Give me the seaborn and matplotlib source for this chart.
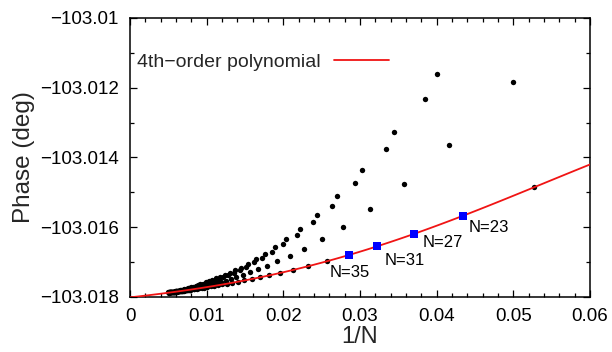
import numpy as np
import pandas as pd
import matplotlib
matplotlib.use("Agg")
import matplotlib.pyplot as plt
import seaborn as sns
from matplotlib.ticker import FixedLocator, FixedFormatter, MultipleLocator

# ---------------- data ----------------
phase_ref = -103.018           # deg, bottom of the plot
# N values for the four interleaved families (N mod 4 = 3, 0, 1, 2)
n_a = list(range(19, 200, 4))  # family lying on the polynomial
n_b = list(range(20, 201, 4))
n_c = list(range(25, 198, 4))
n_d = list(range(26, 199, 4))
# phase above phase_ref, in micro-degrees
dphase_a_udeg = [3140, 2330, 1810, 1460, 1210, 1020, 878, 765, 693, 623,
                 566, 517, 476, 440, 409, 382, 359, 337, 319, 302,
                 286, 272, 260, 248, 237, 228, 218, 210, 202, 195,
                 188, 182, 176, 171, 165, 161, 156, 152, 147, 143,
                 140, 136, 133, 130, 127, 124]
dphase_b_udeg = [6170, 4350, 3240, 2510, 2010, 1660, 1380, 1180, 1030, 886,
                 790, 710, 630, 563, 511, 466, 428, 394, 365, 339,
                 316, 295, 277, 260, 245, 231, 220, 215, 208, 200,
                 193, 187, 181, 176, 171, 166, 162, 158, 154, 150,
                 146, 143, 140, 137, 134, 131]
dphase_c_udeg = [6400, 4720, 3640, 2900, 2360, 1960, 1655, 1420, 1235, 1090,
                 955, 845, 770, 701, 636, 580, 531, 488, 450, 417,
                 387, 361, 337, 315, 296, 278, 262, 248, 234, 222,
                 211, 200, 191, 182, 173, 166, 158, 152, 146, 145,
                 141, 137, 134, 131]
dphase_d_udeg = [5690, 4230, 3280, 2620, 2140, 1785, 1520, 1290, 1125, 990,
                 868, 769, 689, 621, 563, 512, 468, 429, 395, 365,
                 339, 315, 293, 274, 257, 241, 227, 214, 202, 191,
                 182, 178, 173, 168, 164, 160, 156, 152, 148, 145,
                 141, 138, 135, 132]
highlight_n = [23, 27, 31, 35]
highlight_labels = ["N=23", "N=27", "N=31", "N=35"]
legend_label = "4th\u2212order polynomial"
xticks = [0, 0.01, 0.02, 0.03, 0.04, 0.05, 0.06]
xtick_labels = ["0", "0.01", "0.02", "0.03", "0.04", "0.05", "0.06"]
yticks = [-103.018, -103.016, -103.014, -103.012, -103.010]
ytick_labels = ["\u2212103.018", "\u2212103.016", "\u2212103.014", "\u2212103.012", "\u2212103.01"]

# ---------------- build tables ----------------
def family(ns, d):
    ns = np.array(ns, dtype=float)
    return pd.DataFrame({"N": ns, "invN": 1.0 / ns,
                         "phase": phase_ref + np.array(d, dtype=float) * 1e-6})

fam_a = family(n_a, dphase_a_udeg)
all_pts = pd.concat([fam_a, family(n_b, dphase_b_udeg),
                     family(n_c, dphase_c_udeg), family(n_d, dphase_d_udeg)],
                    ignore_index=True)
hl = fam_a[fam_a["N"].isin(highlight_n)].copy()

# ---------------- plot ----------------
sns.set_style("ticks")
plt.rcParams["font.family"] = ["Liberation Sans", "DejaVu Sans"]
plt.rcParams["axes.unicode_minus"] = True

fig = plt.figure(figsize=(6.12, 3.52), dpi=100)
ax = fig.add_axes([130 / 612, 55 / 352, 460 / 612, 279 / 352])
ax.set_xlim(0, 0.06)
ax.set_ylim(-103.018, -103.010)

sns.scatterplot(data=all_pts, x="invN", y="phase", ax=ax, color="black",
                s=15, linewidth=0, legend=False, zorder=2)
n_lines_before = len(ax.lines)
sns.regplot(data=fam_a, x="invN", y="phase", order=4, ci=None, scatter=False,
            truncate=False, ax=ax, color="#f01414",
            line_kws={"linewidth": 1.3, "zorder": 3})
fit_line = ax.lines[n_lines_before]
fit_line.set_label(legend_label)
sns.scatterplot(data=hl, x="invN", y="phase", ax=ax, color="#0000ff",
                marker="s", s=28, linewidth=0, legend=False, zorder=4)

offsets = [(5, -12), (9, -9), (7, -14), (-19, -18)]
for (_, row), lab, off in zip(hl.sort_values("N").iterrows(), highlight_labels, offsets):
    ax.annotate(lab, (row["invN"], row["phase"]), xytext=off,
                textcoords="offset pixels", ha="left", va="center",
                fontsize=12, color="black")

ax.xaxis.set_major_locator(FixedLocator(xticks))
ax.xaxis.set_major_formatter(FixedFormatter(xtick_labels))
ax.xaxis.set_minor_locator(MultipleLocator(0.002))
ax.yaxis.set_major_locator(FixedLocator(yticks))
ax.yaxis.set_major_formatter(FixedFormatter(ytick_labels))
ax.yaxis.set_minor_locator(MultipleLocator(0.001))
ax.tick_params(which="both", direction="in", top=True, right=True,
               color="black", labelsize=13.5, labelcolor="black")
ax.tick_params(which="major", length=5, width=0.9, pad=8)
ax.tick_params(which="minor", length=3, width=0.9)
for sp in ax.spines.values():
    sp.set_linewidth(1.1)
    sp.set_color("black")

ax.set_xlabel("1/N", fontsize=17)
ax.set_ylabel("Phase (deg)", fontsize=17.5)
ax.xaxis.set_label_coords(0.5, -0.105)
ax.yaxis.set_label_coords(-0.207, 0.5)

ax.legend(handles=[fit_line], labels=[legend_label], loc="center left",
          bbox_to_anchor=(0.0146, 0.842),
          markerfirst=False, frameon=False, fontsize=14, borderpad=0,
          borderaxespad=0, handlelength=2.85, handletextpad=0.7)

fig.savefig("out.png", dpi=100)
